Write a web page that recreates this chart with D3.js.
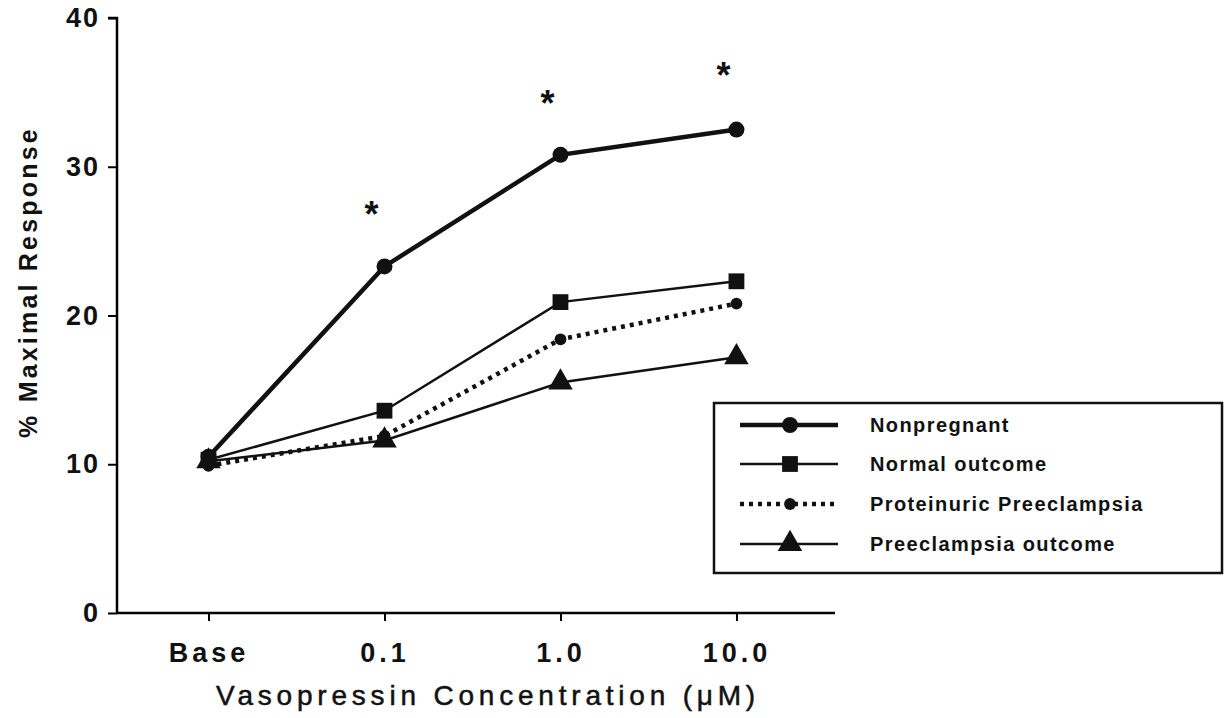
<!DOCTYPE html>
<html>
<head>
<meta charset="utf-8">
<title>Vasopressin response</title>
<script src="https://d3js.org/d3.v7.min.js"></script>
<style>
  body { margin: 0; background: white; }
  text { font-family: "Liberation Sans", Arial, Helvetica, sans-serif; fill: #111; }
</style>
</head>
<body>
<svg width="1228" height="718"></svg>
<script>
// values
var concentrations = ["Base", "0.1", "1.0", "10.0"];
var nonpregnant   = [10.5, 23.3, 30.8, 32.5];
var normalOutcome = [10.3, 13.6, 20.9, 22.3];
var proteinuric   = [9.9, 11.9, 18.4, 20.8];
var preeclampsia  = [10.2, 11.6, 15.5, 17.2];
var yTicks = [0, 10, 20, 30, 40];
// significance marks (index, value)
var starIndex = [1, 2, 3];
var starValue = [27.2, 34.7, 36.6];
var seriesNames = ["Nonpregnant", "Normal outcome", "Proteinuric Preeclampsia", "Preeclampsia outcome"];

var svg = d3.select("svg");

var xs = d3.scaleLinear().domain([-0.52, 3.56]).range([117, 835]);
var ys = d3.scaleLinear().domain([0, 40]).range([613, 18]);

var series = [
  {name: seriesNames[0], values: nonpregnant,   width: 4.5, dash: null,  shape: d3.symbolCircle,   size: 200},
  {name: seriesNames[1], values: normalOutcome, width: 2.5, dash: null,  shape: d3.symbolSquare,   size: 250},
  {name: seriesNames[2], values: proteinuric,   width: 4.5, dash: "4,5", shape: d3.symbolCircle,   size: 110},
  {name: seriesNames[3], values: preeclampsia,  width: 2.5, dash: null,  shape: d3.symbolTriangle, size: 260}
];

// y axis
var yAxis = svg.append("g")
    .attr("transform", "translate(117,0)")
    .call(d3.axisLeft(ys).tickValues(yTicks).tickSize(9).tickPadding(8));
yAxis.select(".domain").attr("stroke-width", 2.5).attr("d", "M-9," + ys(40) + "H0V" + ys(0));
yAxis.selectAll(".tick line").attr("stroke-width", 2);
yAxis.selectAll(".tick text")
    .style("font-size", "27px").style("font-weight", "bold").style("letter-spacing", "2px");

// x axis
var xAxis = svg.append("g")
    .attr("transform", "translate(0,613)")
    .call(d3.axisBottom(xs).tickValues([0, 1, 2, 3])
      .tickFormat(function(d) { return concentrations[d]; })
      .tickSize(8).tickPadding(22));
xAxis.select(".domain").attr("stroke-width", 2.5).attr("d", "M117,0H835");
xAxis.selectAll(".tick line").attr("stroke-width", 2);
xAxis.selectAll(".tick text")
    .style("font-size", "27px").style("font-weight", "bold").style("letter-spacing", "4px");

// axis titles
svg.append("text")
    .attr("x", 488).attr("y", 705)
    .attr("text-anchor", "middle")
    .style("font-size", "28px").style("letter-spacing", "4.8px")
    .style("stroke", "#111").style("stroke-width", "0.5px")
    .text("Vasopressin  Concentration  (\u03bcM)");

svg.append("text")
    .attr("transform", "translate(37,282) rotate(-90)")
    .attr("text-anchor", "middle")
    .style("font-size", "25px").style("font-weight", "bold").style("letter-spacing", "3.2px")
    .text("%  Maximal  Response");

// lines + markers
var line = d3.line()
    .x(function(d, i) { return xs(i); })
    .y(function(d) { return ys(d); });

series.forEach(function(s) {
  svg.append("path")
      .datum(s.values)
      .attr("fill", "none")
      .attr("stroke", "#111")
      .attr("stroke-width", s.width)
      .attr("stroke-dasharray", s.dash)
      .attr("d", line);
  svg.selectAll(null).data(s.values).enter().append("path")
      .attr("transform", function(d, i) { return "translate(" + xs(i) + "," + ys(d) + ")"; })
      .attr("d", d3.symbol().type(s.shape).size(s.size))
      .attr("fill", "#111");
});

// asterisks
svg.selectAll(null).data(starIndex).enter().append("text")
    .attr("x", function(d) { return xs(d) - 13; })
    .attr("y", function(d, i) { return ys(starValue[i]) + 19; })
    .attr("text-anchor", "middle")
    .style("font-size", "36px").style("font-weight", "bold")
    .text("*");

// legend
var lg = svg.append("g");
lg.append("rect")
    .attr("x", 714).attr("y", 403).attr("width", 508).attr("height", 170)
    .attr("fill", "white").attr("stroke", "#111").attr("stroke-width", 2.5);

var rowY = [425, 464, 504, 544];
series.forEach(function(s, i) {
  lg.append("line")
      .attr("x1", 740).attr("x2", 838).attr("y1", rowY[i]).attr("y2", rowY[i])
      .attr("stroke", "#111").attr("stroke-width", s.width)
      .attr("stroke-dasharray", s.dash);
  lg.append("path")
      .attr("transform", "translate(790," + rowY[i] + ")")
      .attr("d", d3.symbol().type(s.shape).size(s.size))
      .attr("fill", "#111");
  lg.append("text")
      .attr("x", 870).attr("y", rowY[i] + 7)
      .style("font-size", "20px").style("font-weight", "bold").style("letter-spacing", "1.4px")
      .text(s.name);
});
</script>
</body>
</html>
